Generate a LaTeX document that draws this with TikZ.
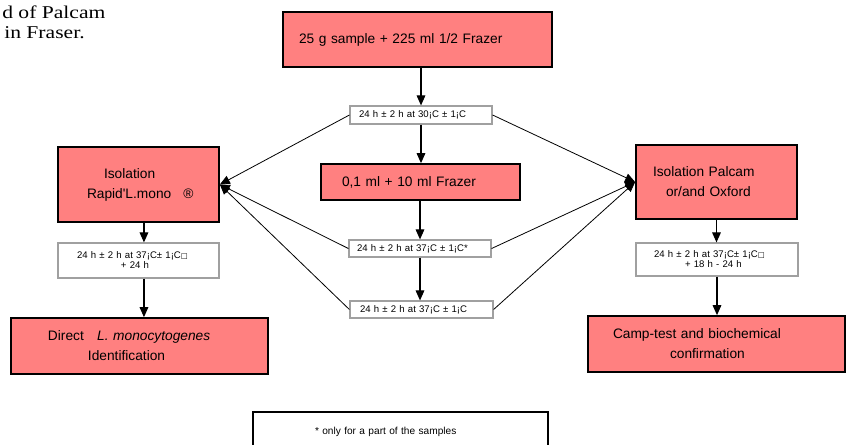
\documentclass[tikz,border=0pt]{standalone}
\usepackage{fontspec}
\setmainfont{Liberation Sans}
\newfontfamily\serifface[FakeStretch=1.2]{Liberation Serif}
\newfontfamily\symface{DejaVu Sans}
\usetikzlibrary{arrows.meta}
\setlength{\parindent}{0pt}
\newcommand{\lpad}[1]{\hspace*{\dimexpr #1pt*3/4\relax}}
\definecolor{boxpink}{RGB}{255,128,128}
\definecolor{boxgray}{RGB}{160,160,160}
\tikzset{
  redbox/.style={draw=black, line width=1.3pt, fill=boxpink, rectangle,
    align=left, inner xsep=0pt, inner ysep=0pt,
    font=\fontsize{10.3}{15}\selectfont},
  graybox/.style={draw=boxgray, line width=0.9pt, fill=white, rectangle,
    align=left, inner xsep=0pt, inner ysep=0pt,
    font=\fontsize{7.2}{7.5}\selectfont},
  notebox/.style={draw=black, line width=1pt, fill=white, rectangle,
    align=left, inner xsep=0pt, inner ysep=0pt,
    font=\fontsize{7.6}{9}\selectfont},
  flow/.style={line width=0.8pt, -{Triangle[length=7.5pt,width=6.5pt]}},
  feed/.style={line width=0.6pt, -{Triangle[length=7.5pt,width=6.5pt]}},
  serifnote/.style={anchor=base west, inner sep=0pt,
    font=\serifface\fontsize{13.5}{18}\selectfont},
}
\begin{document}
\begin{tikzpicture}[x=0.75pt, y=-0.75pt]
\path[use as bounding box] (0,0) rectangle (850,444);
\clip (0,0) rectangle (850,444);

% top-left fragment of text
\node[serifnote] (note1) at (2,18) {d of Palcam};
\node[serifnote] (note2) at (4,38) {in Fraser.};

% red boxes
\node[redbox, minimum width=201.75pt, minimum height=41.25pt, text width=201.75pt]
  (top) at (417.5,39.5) {\lpad{16}25 g sample + 225 ml 1/2 Frazer};
\node[redbox, minimum width=149.25pt, minimum height=27pt, text width=149.25pt]
  (b01) at (420.5,182) {\lpad{21}0,1 ml + 10 ml Frazer};
\node[redbox, minimum width=120.75pt, minimum height=56.25pt, text width=120.75pt]
  (isoL) at (138.5,184.5) {\lpad{46}Isolation\\\lpad{29}Rapid\textquotesingle L.mono\hspace{9pt}®};
\node[redbox, minimum width=120.75pt, minimum height=55.5pt, text width=120.75pt]
  (isoR) at (716.5,182) {\lpad{17}Isolation Palcam\\\lpad{30}or/and Oxford};
\node[redbox, minimum width=192.75pt, minimum height=42pt, text width=192.75pt]
  (direct) at (139.5,346) {\lpad{37}Direct\hspace{10pt}\textit{L. monocytogenes}\\\lpad{77}Identification};
\node[redbox, minimum width=192.75pt, minimum height=42pt, text width=192.75pt]
  (camp) at (716.5,344) {\lpad{25}Camp-test and biochemical\\\lpad{82}confirmation};

% grey incubation boxes
\node[graybox, minimum width=106.5pt, minimum height=13.5pt, text width=106.5pt]
  (b30) at (421,115) {\lpad{9}24 h ± 2 h at 30¡C ± 1¡C};
\node[graybox, minimum width=106.5pt, minimum height=12.75pt, text width=106.5pt]
  (b37s) at (420,248.5) {\lpad{8}24 h ± 2 h at 37¡C ± 1¡C*};
\node[graybox, minimum width=107.25pt, minimum height=12.75pt, text width=107.25pt]
  (b37) at (421.5,309.5) {\lpad{10}24 h ± 2 h at 37¡C ± 1¡C};
\node[graybox, minimum width=120.75pt, minimum height=26.25pt, text width=120.75pt]
  (incL) at (138.5,260.5) {\lpad{19}24 h ± 2 h at 37¡C± 1¡C{\symface\fontsize{5.5}{7}\selectfont □}\\\lpad{63}+ 24 h};
\node[graybox, minimum width=121.5pt, minimum height=24.75pt, text width=121.5pt]
  (incR) at (717,259.5) {\lpad{18}24 h ± 2 h at 37¡C± 1¡C{\symface\fontsize{5.5}{7}\selectfont □}\\\lpad{49}+ 18 h - 24 h};

% footnote box
\node[notebox, minimum width=221.25pt, minimum height=30pt, text width=221.25pt]
  (foot) at (400.5,432) {\lpad{62}* only for a part of the samples};

% central chain
\draw[flow] (top.south -| b30.north) -- (b30.north);
\draw[flow] (b30.south) -- (b30.south |- b01.north);
\draw[flow] (b01.south -| b37s.north) -- (b37s.north);
\draw[flow] (b37s.south) -- (b37s.south |- b37.north);

% left chain
\draw[flow] ([xshift=4.1pt]isoL.south) -- ([xshift=4.1pt]isoL.south |- incL.north);
\draw[flow] ([xshift=4.1pt]incL.south) -- ([xshift=4.1pt]incL.south |- direct.north);

% right chain
\draw[flow] (isoR.south) -- (isoR.south |- incR.north);
\draw[flow] (incR.south) -- (incR.south |- camp.north);

% feeds to isolation boxes
\draw[feed] (b30.west) -- (isoL.east);
\draw[feed] (b37s.west) -- (isoL.east);
\draw[feed] (b37.west) -- (isoL.east);
\draw[feed] (b30.east) -- (isoR.west);
\draw[feed] (b37s.east) -- (isoR.west);
\draw[feed] (b37.east) -- (isoR.west);
\end{tikzpicture}
\end{document}
